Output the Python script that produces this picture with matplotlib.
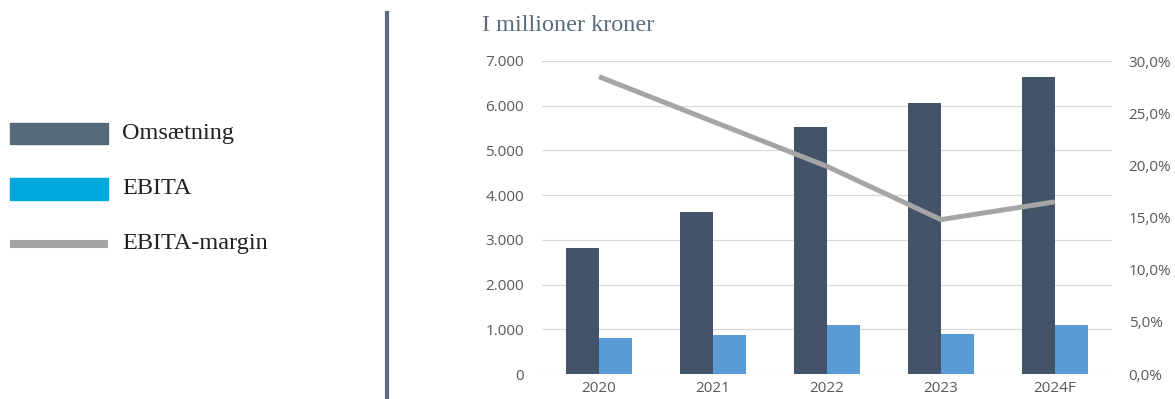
import numpy as np
import matplotlib
matplotlib.use("Agg")
import matplotlib.pyplot as plt
from matplotlib.patches import Rectangle
from matplotlib.lines import Line2D
from matplotlib.ticker import FuncFormatter, MultipleLocator

# data (DKK millions)
years = ["2020", "2021", "2022", "2023", "2024F"]
omsaetning = [2820, 3620, 5525, 6060, 6645]
ebita = [805, 875, 1095, 895, 1095]
margin = [28.5, 24.2, 19.9, 14.8, 16.5]   # percent

DARK = "#435369"
LIGHT = "#5b9bd5"
GREY = "#a5a5a5"
SLATE = "#5a6d7e"
TICK = "#595959"

W, H = 1175, 399
fig = plt.figure(figsize=(W / 100, H / 100), dpi=100)

ax = fig.add_axes([542 / W, 25 / H, 570 / W, 313 / H])
x = np.arange(len(years))
bw = 0.29
ax.bar(x - bw / 2, omsaetning, width=bw, color=DARK, zorder=3)
ax.bar(x + bw / 2, ebita, width=bw, color=LIGHT, zorder=3)
ax.set_xlim(-0.5, len(years) - 0.5)
ax.set_ylim(0, 7000)
ax.yaxis.set_major_locator(MultipleLocator(1000))
ax.yaxis.set_major_formatter(FuncFormatter(lambda v, _: f"{int(v):,}".replace(",", ".")))
ax.set_xticks(x, years)
ax.grid(axis="y", color="#d9d9d9", linewidth=0.9, zorder=0)
for s in ax.spines.values():
    s.set_visible(False)
ax.tick_params(axis="y", length=0, pad=13, labelsize=11, labelcolor=TICK)
ax.tick_params(axis="x", length=0, pad=5, labelsize=11, labelcolor=TICK)

ax2 = ax.twinx()
ax2.plot(x, margin, color=GREY, linewidth=3.6, solid_capstyle="butt", zorder=4)
ax2.set_ylim(0, 30)
ax2.yaxis.set_major_locator(MultipleLocator(5))
ax2.yaxis.set_major_formatter(FuncFormatter(lambda v, _: f"{v:.1f}%".replace(".", ",")))
for s in ax2.spines.values():
    s.set_visible(False)
ax2.tick_params(axis="y", length=0, pad=12, labelsize=11, labelcolor=TICK)

for lab in ax.get_xticklabels() + ax.get_yticklabels() + ax2.get_yticklabels():
    lab.set_fontfamily("Open Sans")

fig.text(482 / W, 1 - 31 / H, "I millioner kroner", fontsize=17.5,
         family="Liberation Serif", color=SLATE, va="baseline")

# divider
fig.add_artist(Line2D([386.5 / W, 386.5 / W], [0, 1 - 13 / H], color=SLATE,
                      linewidth=3, transform=fig.transFigure))

# hand-drawn legend on the left
serif = dict(fontsize=17.5, family="Liberation Serif", color="#222222", va="center")
fig.add_artist(Rectangle((10 / W, 1 - 144 / H), 98 / W, 21 / H, color="#566a7b",
                         transform=fig.transFigure))
fig.text(122 / W, 1 - 134 / H, "Omsætning", **serif)
fig.add_artist(Rectangle((10 / W, 1 - 200 / H), 98 / W, 22 / H, color="#00a9dc",
                         transform=fig.transFigure))
fig.text(122 / W, 1 - 189 / H, "EBITA", **serif)
fig.add_artist(Line2D([10 / W, 108 / W], [1 - 244 / H, 1 - 244 / H], color=GREY,
                      linewidth=5.8, solid_capstyle="butt", transform=fig.transFigure))
fig.text(122 / W, 1 - 243 / H, "EBITA-margin", **serif)

fig.savefig("out.png", dpi=100)
